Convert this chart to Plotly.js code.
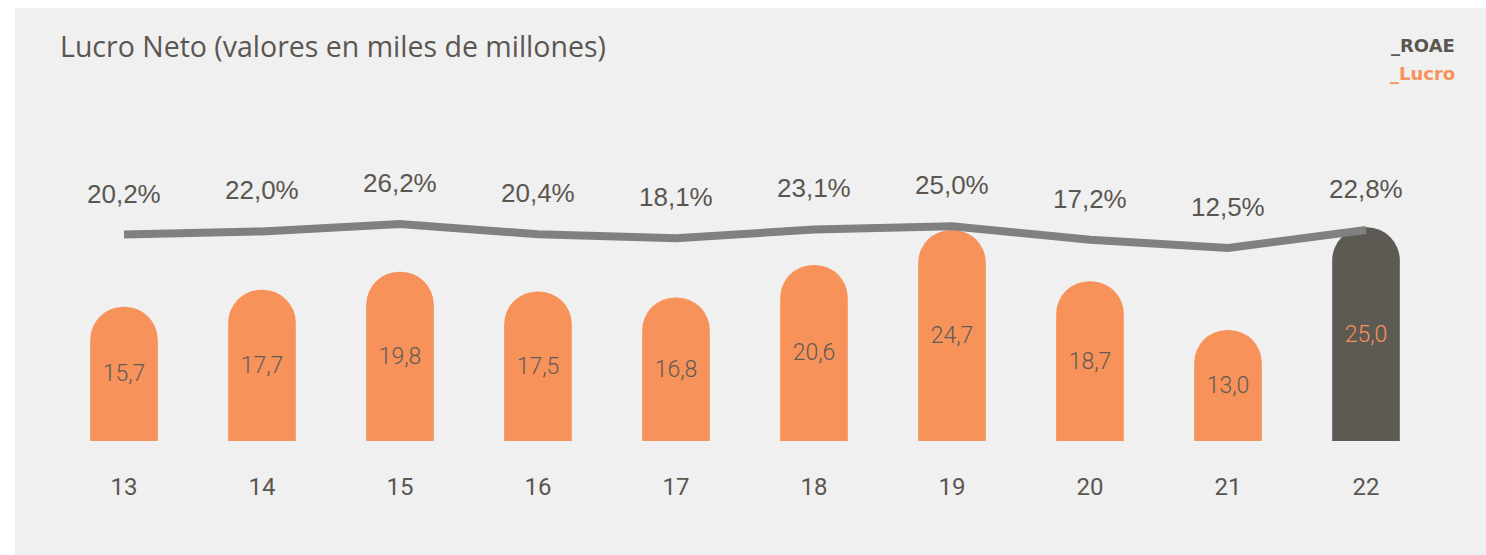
<!DOCTYPE html>
<html>
<head>
<meta charset="utf-8">
<script src="https://cdn.plot.ly/plotly-3.0.1.min.js"></script>
<style>
  html, body { margin: 0; padding: 0; background: #ffffff; width: 1486px; height: 555px; overflow: hidden; }
  #chart { position: absolute; left: 15px; top: 8px; width: 1471px; height: 547px; }
</style>
</head>
<body>
<div id="chart"></div>
<script>
// ---- data ----
const years = ["13", "14", "15", "16", "17", "18", "19", "20", "21", "22"];
const lucro = [15.7, 17.7, 19.8, 17.5, 16.8, 20.6, 24.7, 18.7, 13.0, 25.0];
const roae = [20.2, 22.0, 26.2, 20.4, 18.1, 23.1, 25.0, 17.2, 12.5, 22.8];

// ---- styles ----
const ORANGE = "#f7925a";
const DARK = "#5d5a54";
const TEXT = "#5b5650";
const last = years.length - 1;

const barColors = years.map((_, i) => i === last ? DARK : ORANGE);
const barTextColors = years.map((_, i) => i === last ? ORANGE : "#5f5b57");

const bars = {
  type: "bar",
  x: years,
  y: lucro,
  marker: { color: barColors, cornerradius: "50%", line: { width: 0 } },
  texttemplate: "%{y:.1f}",
  textposition: "inside",
  insidetextanchor: "middle",
  textangle: 0,
  textfont: { family: "Roboto, sans-serif", size: 23, weight: 300, color: barTextColors },
  hoverinfo: "skip",
  cliponaxis: false
};

const line = {
  type: "scatter",
  mode: "lines",
  x: years,
  y: roae,
  yaxis: "y2",
  line: { color: "#808080", width: 8 },
  hoverinfo: "skip"
};

const fmtPct = v => v.toFixed(1).replace(".", ",") + "%";

const annotations = years.map((yr, i) => ({
  x: i, y: roae[i], xref: "x", yref: "y2",
  text: fmtPct(roae[i]), showarrow: false,
  yshift: 41,
  font: { family: "Liberation Sans, Arial, sans-serif", size: 26, color: TEXT }
}));

annotations.push({
  xref: "paper", yref: "paper", x: 1.016, y: 1.161, xanchor: "right", yanchor: "middle",
  text: "<b>_ROAE</b>", showarrow: false,
  font: { family: "DejaVu Sans, sans-serif", size: 18, color: "#5b5650" }
});
annotations.push({
  xref: "paper", yref: "paper", x: 1.016, y: 1.079, xanchor: "right", yanchor: "middle",
  text: "<b>_Lucro</b>", showarrow: false,
  font: { family: "DejaVu Sans, sans-serif", size: 18, color: ORANGE }
});

const layout = {
  width: 1471,
  height: 547,
  paper_bgcolor: "#f0f0f0",
  plot_bgcolor: "#f0f0f0",
  margin: { l: 40, r: 51, t: 92, b: 114, pad: 0 },
  separators: ",.",
  showlegend: false,
  bargap: 0.51,
  title: {
    text: "Lucro Neto (valores en miles de millones)",
    xref: "container", yref: "container",
    x: 45 / 1471, xanchor: "left",
    y: 1 - 39 / 547, yanchor: "middle",
    font: { family: "Open Sans, sans-serif", size: 28.5, color: TEXT }
  },
  xaxis: {
    type: "category",
    range: [-0.5, years.length - 0.5],
    showgrid: false, zeroline: false, showline: false,
    ticks: "outside", ticklen: 24, tickcolor: "rgba(0,0,0,0)",
    tickfont: { family: "Roboto, sans-serif", size: 24, color: TEXT },
    fixedrange: true
  },
  yaxis: {
    range: [0, 39.9],
    visible: false, fixedrange: true
  },
  yaxis2: {
    range: [-97.8, 97.1],
    overlaying: "y", side: "right",
    visible: false, fixedrange: true
  },
  annotations: annotations
};

Plotly.newPlot("chart", [bars, line], layout, { displayModeBar: false, staticPlot: true });
</script>
</body>
</html>
